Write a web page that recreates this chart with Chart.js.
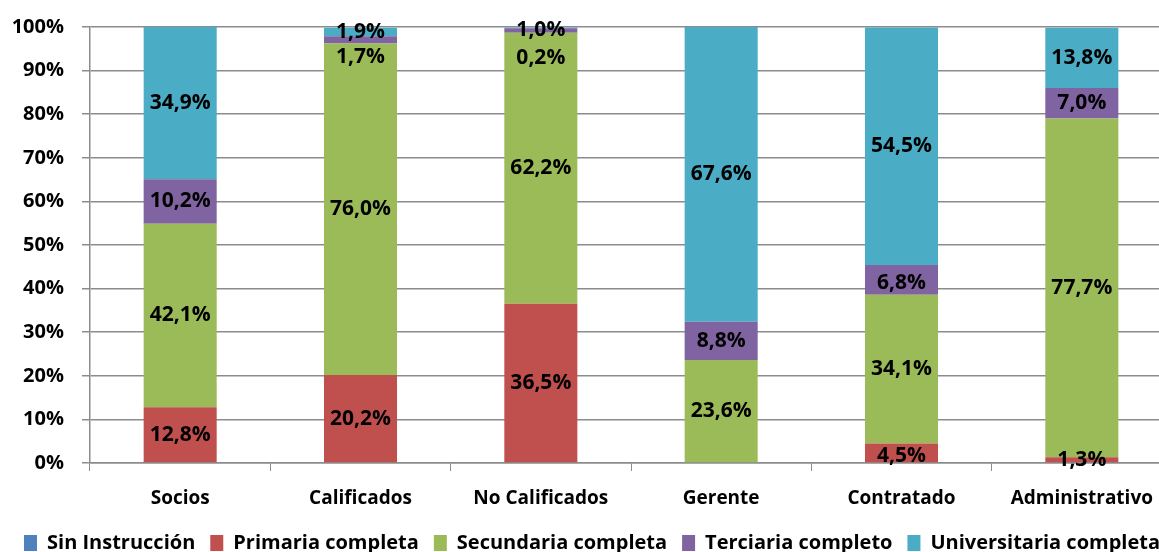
<!DOCTYPE html>
<html>
<head>
<meta charset="utf-8">
<script src="https://cdn.jsdelivr.net/npm/chart.js@4.4.1/dist/chart.umd.min.js"></script>
<style>
  html, body { margin: 0; padding: 0; background: #fff; overflow: hidden; }
  #wrap { width: 1184px; height: 563px; }
</style>
</head>
<body>
<div id="wrap"><canvas id="chart" width="1184" height="563"></canvas></div>
<script>
// ================= DATA =================
const categories = ["Socios", "Calificados", "No Calificados", "Gerente", "Contratado", "Administrativo"];
const sinInstruccion = [0, 0, 0, 0, 0, 0];
const primaria = [12.8, 20.2, 36.5, 0, 4.5, 1.3];
const secundaria = [42.1, 76.0, 62.2, 23.6, 34.1, 77.7];
const terciaria = [10.2, 1.7, 1.0, 8.8, 6.8, 7.0];
const universitaria = [34.9, 1.9, 0.2, 67.6, 54.5, 13.8];
const yTicks = [0, 10, 20, 30, 40, 50, 60, 70, 80, 90, 100];

const gridGrey = "#8c8c8c";
const font = "'Open Sans', sans-serif";

// small label nudges (px) for thin segments, key = "dataset-index"
const labelNudge = { "3-1": 17, "4-2": 30, "1-4": 3, "3-4": 3 };

function pct(v) {
    return v.toFixed(1).replace(".", ",") + "%";
}

// ================= LABEL PLUGIN =================
const segmentLabels = {
    id: "segmentLabels",
    afterDatasetsDraw(chart) {
        const ctx = chart.ctx;
        ctx.save();
        ctx.font = "bold 21px " + font;
        ctx.fillStyle = "#000";
        ctx.textAlign = "center";
        ctx.textBaseline = "middle";
        chart.data.datasets.forEach((ds, di) => {
            if (di === 0) return;
            const meta = chart.getDatasetMeta(di);
            meta.data.forEach((bar, i) => {
                const v = ds.data[i];
                if (!v) return;
                const y = (bar.y + bar.base) / 2 + (labelNudge[di + "-" + i] || 0);
                ctx.fillText(pct(v), bar.x, y);
            });
        });
        ctx.restore();
    }
};

// ================= CHART =================
const ctx = document.getElementById("chart").getContext("2d");

new Chart(ctx, {
    type: "bar",
    data: {
        labels: categories,
        datasets: [
            { label: "Sin Instrucción", data: sinInstruccion, backgroundColor: "#4F81BD" },
            { label: "Primaria completa", data: primaria, backgroundColor: "#C0504D" },
            { label: "Secundaria completa", data: secundaria, backgroundColor: "#9BBB59" },
            { label: "Terciaria completo", data: terciaria, backgroundColor: "#8064A2" },
            { label: "Universitaria completa", data: universitaria, backgroundColor: "#4BACC6" }
        ]
    },
    options: {
        responsive: false,
        animation: false,
        devicePixelRatio: 1,
        layout: { padding: { left: 0, right: 0, top: 27, bottom: 0 } },
        datasets: { bar: { categoryPercentage: 0.405, barPercentage: 1 } },
        plugins: {
            tooltip: { enabled: false },
            legend: {
                position: "bottom",
                labels: {
                    color: "#000",
                    font: { family: font, size: 20, weight: "bold" },
                    boxWidth: 13,
                    boxHeight: 16,
                    padding: 15
                }
            }
        },
        scales: {
            x: {
                stacked: true,
                afterFit(scale) {
                    scale.height = 55;
                    scale.paddingLeft = 0;
                    scale.paddingRight = 0;
                },
                grid: { drawOnChartArea: false, color: gridGrey, tickLength: 8 },
                border: { color: gridGrey, width: 1.5 },
                ticks: {
                    color: "#000",
                    padding: 16,
                    font: { family: font, size: 19, weight: "bold" }
                }
            },
            y: {
                stacked: true,
                min: 0,
                max: 100,
                afterBuildTicks(scale) {
                    scale.ticks = yTicks.map(v => ({ value: v }));
                },
                afterFit(scale) {
                    scale.width = 90;
                    scale.paddingTop = 0;
                    scale.paddingBottom = 0;
                },
                grid: { color: gridGrey, lineWidth: 1.5, tickLength: 8 },
                border: { color: gridGrey, width: 1.5 },
                ticks: {
                    color: "#000",
                    padding: 18,
                    font: { family: font, size: 20, weight: "bold" },
                    callback: v => v + "%"
                }
            },
            // empty spacer on the right so the plot runs past the window edge
            spacer: {
                type: "linear",
                position: "right",
                grid: { display: false },
                border: { display: false },
                ticks: { display: false },
                afterFit(scale) {
                    scale.width = 12;
                    scale.paddingTop = 0;
                    scale.paddingBottom = 0;
                }
            }
        }
    },
    plugins: [segmentLabels]
});
</script>
</body>
</html>
